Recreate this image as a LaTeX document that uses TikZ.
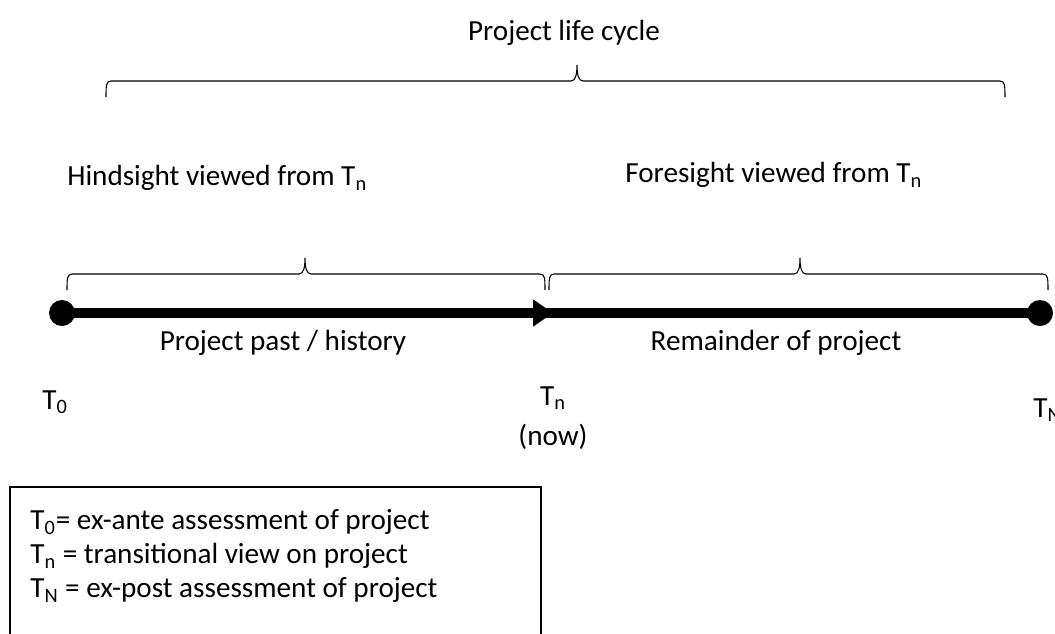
\documentclass[tikz,border=0pt]{standalone}
\usepackage{fontspec}
\setmainfont{Carlito}
\usetikzlibrary{arrows.meta,positioning}

% curly brace in the Word style: left x, right x, tip x, y of the ends
\newcommand{\spanbrace}[4]{%
  \draw[bracket] (#1,#4) .. controls (#1,#4+0.22) and (#1,#4+0.32) .. (#1+0.1,#4+0.32)
    -- (#3-0.12,#4+0.32) .. controls (#3-0.03,#4+0.32) and (#3,#4+0.45) .. (#3,#4+0.64)
    .. controls (#3,#4+0.45) and (#3+0.03,#4+0.32) .. (#3+0.12,#4+0.32)
    -- (#2-0.1,#4+0.32) .. controls (#2,#4+0.32) and (#2,#4+0.22) .. (#2,#4);}

\begin{document}
\begin{tikzpicture}[every node/.style={font=\fontsize{16.6}{20}\selectfont, inner sep=0pt},
    bracket/.style={line width=0.6pt},
    timeline/.style={line width=0.2cm},
    dot/.style={circle, fill=black, minimum size=0.52cm}]
    \useasboundingbox (0,0) rectangle (21.1,-12.66);

    % Top brace
    \node (cycle) at (11.28,-0.66) {Project life cycle};
    \spanbrace{2.12}{20.1}{11.54}{-1.94}

    % Views
    \node[anchor=west] (hind) at (1.34,-3.56) {Hindsight viewed from T\textsubscript{n}};
    \node[anchor=west] (fore) at (12.5,-3.5) {Foresight viewed from T\textsubscript{n}};
    \spanbrace{1.34}{10.9}{6.1}{-5.8}
    \spanbrace{10.98}{20.96}{16.0}{-5.8}

    % Time line
    \node[dot] (t0) at (1.24,-6.26) {};
    \coordinate (tn) at (11.06,-6.26);
    \node[dot] (tN) at (20.8,-6.26) {};
    \draw[timeline, -{Triangle[length=0.4cm, width=0.52cm]}] (t0.center) -- (tn);
    \draw[timeline] ([xshift=-0.3cm]tn) -- (tN.center);

    % Labels
    \node (past) at (5.66,-6.86) {Project past / history};
    \node (rest) at (15.52,-6.86) {Remainder of project};
    \node[anchor=west] (lab0) at (0.84,-8.04) {T\textsubscript{0}};
    \node (labn) at (11.06,-7.96) {T\textsubscript{n}};
    \node (now) at (11.06,-8.74) {(now)};
    \node[anchor=west] (labN) at (20.66,-8.2) {T\textsubscript{N}};

    % Legend
    \draw[line width=0.6pt] (0.2,-13.2) |- (10.82,-9.74) -- (10.82,-13.2);
    \node[anchor=west] (key0) at (0.6,-10.44) {T\textsubscript{0}= ex-ante assessment of project};
    \node[anchor=west] (keyn) at (0.6,-11.12) {T\textsubscript{n} = transitional view on project};
    \node[anchor=west] (keyN) at (0.6,-11.8) {T\textsubscript{N} = ex-post assessment of project};
\end{tikzpicture}
\end{document}
